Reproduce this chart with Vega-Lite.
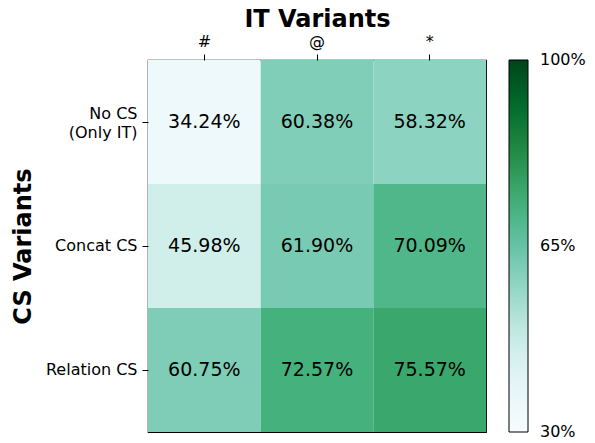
{
  "$schema": "https://vega.github.io/schema/vega-lite/v6.json",
  "width": 338,
  "height": 372,
  "autosize": {"type": "none"},
  "padding": {"left": 148, "top": 60, "right": 109, "bottom": 11},
  "config": {
    "font": "DejaVu Sans",
    "view": {"stroke": "black", "strokeWidth": 1.2}
  },
  "data": {
    "values": [
      {"it": "#", "cs": "No CS|(Only IT)", "v": 0.3424},
      {"it": "@", "cs": "No CS|(Only IT)", "v": 0.6038},
      {"it": "*", "cs": "No CS|(Only IT)", "v": 0.5832},
      {"it": "#", "cs": "Concat CS", "v": 0.4598},
      {"it": "@", "cs": "Concat CS", "v": 0.6190},
      {"it": "*", "cs": "Concat CS", "v": 0.7009},
      {"it": "#", "cs": "Relation CS", "v": 0.6075},
      {"it": "@", "cs": "Relation CS", "v": 0.7257},
      {"it": "*", "cs": "Relation CS", "v": 0.7557}
    ]
  },
  "encoding": {
    "x": {
      "field": "it",
      "type": "nominal",
      "sort": ["#", "@", "*"],
      "axis": {
        "orient": "top",
        "domain": false,
        "grid": false,
        "tickColor": "black",
        "tickSize": 6,
        "labelColor": "black",
        "labelFontSize": 16,
        "labelPadding": 5,
        "labelAngle": 0,
        "title": "IT Variants",
        "titleColor": "black",
        "titleFontWeight": "bold",
        "titleFontSize": 24,
        "titlePadding": 2
      }
    },
    "y": {
      "field": "cs",
      "type": "nominal",
      "sort": ["No CS|(Only IT)", "Concat CS", "Relation CS"],
      "axis": {
        "domain": false,
        "grid": false,
        "tickColor": "black",
        "tickSize": 6,
        "labelColor": "black",
        "labelFontSize": 16,
        "labelPadding": 5,
        "labelExpr": "split(datum.label, '|')",
        "labelAlign": "right",
        "labelLineHeight": 19,
        "labelOffset": {
          "condition": {"test": "indexof(datum.value, '|') >= 0", "value": -8},
          "value": 0
        },
        "title": "CS Variants",
        "titleColor": "black",
        "titleFontWeight": "bold",
        "titleFontSize": 24,
        "titlePadding": 10
      }
    }
  },
  "layer": [
    {
      "mark": {"type": "rect"},
      "encoding": {
        "color": {
          "field": "v",
          "type": "quantitative",
          "scale": {
            "domain": [0.3, 0.3875, 0.475, 0.5625, 0.65, 0.7375, 0.825, 0.9125, 1.0],
            "range": ["#f7fcfd", "#e5f5f9", "#ccece6", "#99d8c9", "#66c2a4", "#41ae76", "#238b45", "#006d2c", "#00441b"]
          },
          "legend": {
            "orient": "none",
            "legendX": 361,
            "legendY": 0,
            "padding": 0,
            "title": null,
            "direction": "vertical",
            "gradientLength": 372,
            "gradientThickness": 19,
            "gradientStrokeColor": "black",
            "gradientStrokeWidth": 1,
            "values": [0.3, 0.65, 1],
            "format": ".0%",
            "labelFontSize": 16,
            "labelColor": "black",
            "labelOffset": 12,
            "labelOverlap": false,
            "encode": {
              "labels": {
                "update": {
                  "baseline": {"value": "middle"}
                }
              }
            }
          }
        }
      }
    },
    {
      "mark": {"type": "text", "fontSize": 19, "color": "black", "font": "DejaVu Sans"},
      "encoding": {
        "text": {"field": "v", "type": "quantitative", "format": ".2%"}
      }
    }
  ]
}
